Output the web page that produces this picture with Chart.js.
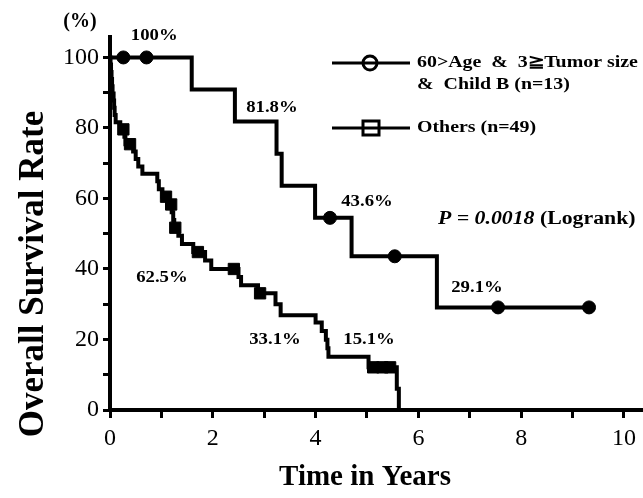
<!DOCTYPE html>
<html>
<head>
<meta charset="utf-8">
<script src="https://cdn.jsdelivr.net/npm/chart.js@4.4.1/dist/chart.umd.min.js"></script>
<style>
  html, body { margin: 0; padding: 0; background: #fff; overflow: hidden; }
  #wrap { width: 643px; height: 498px; position: relative; }
  #kmChart { display: block; }
</style>
</head>
<body>
<div id="wrap"><canvas id="kmChart"></canvas></div>
<script>
// 60>Age & 3≧Tumor size & Child B (n=13): step times (years) and survival (%)
const groupATimes = [0, 1.59, 2.43, 3.24, 3.34, 3.99, 4.70, 6.36, 9.32];
const groupASurv = [100, 90.9, 81.8, 72.7, 63.6, 54.5, 43.6, 29.1, 29.1];
const groupACensored = [0.26, 0.71, 4.28, 5.54, 7.55, 9.32];

// Others (n=49)
const groupBTimes = [0, 0.01, 0.02, 0.03, 0.04, 0.05, 0.07, 0.08, 0.09, 0.11, 0.20, 0.28, 0.30,
  0.45, 0.50, 0.55, 0.63, 0.92, 0.95, 1.02, 1.15, 1.20, 1.23, 1.25, 1.33, 1.40, 1.62, 1.85,
  1.97, 2.50, 2.55, 2.88, 3.22, 3.32, 4.00, 4.12, 4.20, 4.23, 4.25, 5.03, 5.58, 5.62];
const groupBSurv = [100, 98.0, 95.9, 93.9, 91.8, 89.8, 87.8, 85.7, 83.7, 81.6, 79.6, 77.5, 75.4,
  73.3, 71.2, 69.1, 67.0, 64.9, 62.6, 60.5, 58.3, 56.1, 53.9, 51.7, 49.4, 47.1, 44.8, 42.4,
  40.0, 37.7, 35.4, 33.1, 30.0, 26.9, 24.8, 22.4, 19.9, 17.5, 15.1, 12.1, 6.0, 0];
const groupBCensored = [0.26, 0.39, 1.09, 1.19, 1.27, 1.71, 2.41, 2.92, 5.12, 5.30, 5.45];

const legendLabels = ["60>Age  &  3\u2267Tumor size", "&  Child B (n=13)", "Others (n=49)"];
const rateLabels = ["100%", "81.8%", "43.6%", "29.1%", "62.5%", "33.1%", "15.1%"];
// where each rate label sits, in (years, %)
const rateLabelPos = [[0.86, 106.2], [3.15, 85.6], [5.0, 58.9], [7.14, 34.6], [1.01, 37.4], [3.21, 19.8], [5.04, 19.8]];

const FONT = '"Liberation Serif", "Times New Roman", serif';
const STRETCH = 1.17; // the print's bold type runs wide

function survAt(times, surv, t) {
  let v = surv[0];
  for (let i = 0; i < times.length; i++) {
    if (times[i] <= t) v = surv[i];
  }
  return v;
}

const toPoints = (xs, ys) => xs.map((t, i) => ({ x: t, y: ys[i] }));
const censorPoints = (cs, xs, ys) => cs.map(t => ({ x: t, y: survAt(xs, ys, t) }));

function wideText(ctx, txt, x, y, sx = STRETCH) {
  ctx.save();
  ctx.translate(x, y);
  ctx.scale(sx, 1);
  ctx.fillText(txt, 0, 0);
  ctx.restore();
  return ctx.measureText(txt).width * sx;
}

const overlay = {
  id: 'overlay',
  afterDraw(chart) {
    const { ctx } = chart;
    const x = chart.scales.x, y = chart.scales.y;
    ctx.save();
    ctx.fillStyle = '#000';
    ctx.strokeStyle = '#000';

    // rate labels
    ctx.textAlign = 'center';
    ctx.textBaseline = 'middle';
    ctx.font = 'bold 16px ' + FONT;
    rateLabels.forEach((txt, i) => {
      const p = rateLabelPos[i];
      wideText(ctx, txt, x.getPixelForValue(p[0]), y.getPixelForValue(p[1]));
    });

    // P value
    ctx.textAlign = 'left';
    ctx.font = 'italic bold 18px ' + FONT;
    const w = wideText(ctx, 'P = 0.0018 ', 438, 219, 1.21);
    ctx.font = 'bold 18px ' + FONT;
    wideText(ctx, '(Logrank)', 438 + w, 219, 1.21);

    // legend
    ctx.lineWidth = 3;
    ctx.beginPath();
    ctx.moveTo(332, 63); ctx.lineTo(410, 63);
    ctx.moveTo(332, 128); ctx.lineTo(410, 128);
    ctx.stroke();
    ctx.beginPath();
    ctx.arc(370, 63, 7, 0, Math.PI * 2);
    ctx.stroke();
    ctx.strokeRect(363, 121, 16, 14);
    ctx.font = 'bold 17px ' + FONT;
    wideText(ctx, legendLabels[0], 417, 63);
    wideText(ctx, legendLabels[1], 417, 85);
    wideText(ctx, legendLabels[2], 417, 128);

    // axis titles
    ctx.textAlign = 'center';
    ctx.font = 'bold 20px ' + FONT;
    ctx.fillText('(%)', 80, 22);
    ctx.font = 'bold 29px ' + FONT;
    ctx.fillText('Time in Years', 365, 478);
    ctx.translate(34, 274);
    ctx.rotate(-Math.PI / 2);
    ctx.font = 'bold 35px ' + FONT;
    ctx.fillText('Overall Survival Rate', 0, 0);
    ctx.restore();
  }
};

new Chart(document.getElementById('kmChart'), {
  type: 'line',
  data: {
    datasets: [
      {
        data: toPoints(groupATimes, groupASurv),
        borderColor: '#000', borderWidth: 4, stepped: true,
        pointRadius: 0, fill: false
      },
      {
        data: toPoints(groupBTimes, groupBSurv),
        borderColor: '#000', borderWidth: 4, stepped: true,
        pointRadius: 0, fill: false
      },
      {
        data: censorPoints(groupACensored, groupATimes, groupASurv),
        showLine: false, pointStyle: 'circle', pointRadius: 6.5,
        backgroundColor: '#000', borderColor: '#000'
      },
      {
        data: censorPoints(groupBCensored, groupBTimes, groupBSurv),
        showLine: false, pointStyle: 'rect', pointRadius: 8,
        backgroundColor: '#000', borderColor: '#000'
      }
    ]
  },
  options: {
    responsive: true,
    maintainAspectRatio: false,
    animation: false,
    layout: { autoPadding: false, padding: { top: 37, right: 0, left: 0, bottom: 0 } },
    plugins: { legend: { display: false }, tooltip: { enabled: false } },
    scales: {
      x: {
        type: 'linear', min: 0, max: 10.37,
        afterFit: s => { s.height = 88; s.paddingLeft = 0; s.paddingRight = 0; },
        border: { display: true, color: '#000', width: 4 },
        grid: { drawOnChartArea: false, tickLength: 8, tickColor: '#000', tickWidth: 3 },
        ticks: {
          stepSize: 1, includeBounds: false, autoSkip: false, maxRotation: 0,
          padding: 6, color: '#000', font: { family: FONT, size: 24 },
          callback: v => (v % 2 === 0 ? v : '')
        }
      },
      y: {
        min: 0, max: 105.8,
        afterFit: s => { s.width = 110; s.paddingTop = 0; s.paddingBottom = 0; },
        border: { display: true, color: '#000', width: 4 },
        grid: { drawOnChartArea: false, tickLength: 7, tickColor: '#000', tickWidth: 3 },
        ticks: {
          stepSize: 10, includeBounds: false, padding: 4, color: '#000',
          font: { family: FONT, size: 24 },
          callback: v => (v % 20 === 0 ? v : '')
        }
      }
    }
  },
  plugins: [overlay]
});
</script>
</body>
</html>
